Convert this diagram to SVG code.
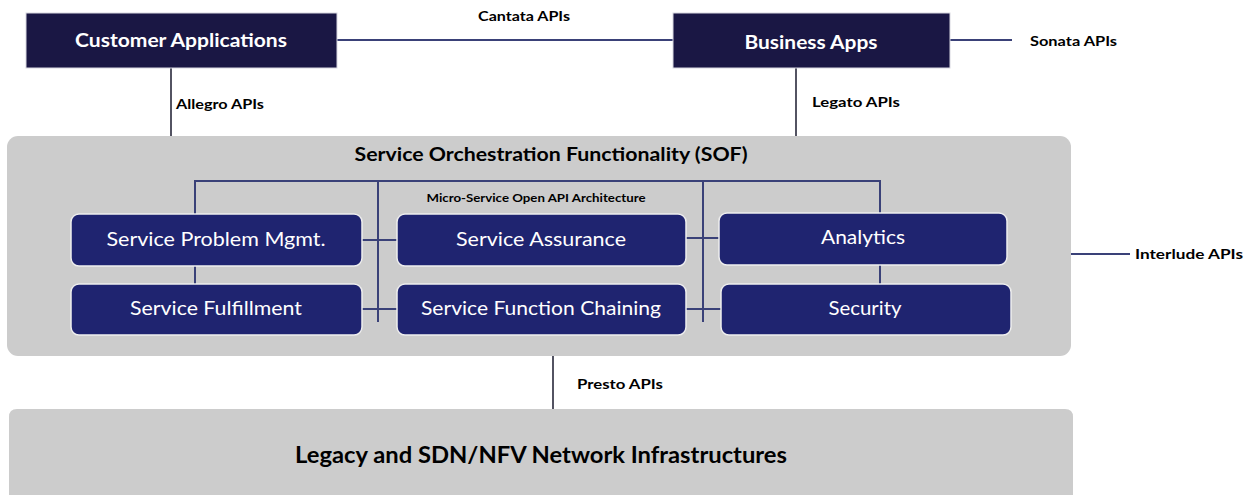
<svg xmlns="http://www.w3.org/2000/svg" width="1255" height="495" viewBox="0 0 1255 495">
<style>
.top{fill:#1a1744;stroke:#d8d8e0;stroke-width:1}
.panel{fill:#cccccc}
.svc{fill:#1f2470;stroke:#eeeeee;stroke-width:1.5}
.ln{stroke:#3a4178;stroke-width:2;fill:none}
.lnk{stroke:#1a1a2e;stroke-width:1.5;fill:none}
.tw{font-family:'Lato','Liberation Sans',sans-serif;fill:#ffffff;text-anchor:middle;dominant-baseline:central}
.tb{font-family:'Lato','Liberation Sans',sans-serif;font-weight:bold;fill:#000000}
</style>
<rect width="1255" height="495" fill="#ffffff"/>
<g id="sof">
<rect class="panel" x="7" y="136" width="1064" height="220" rx="11"/>
<text class="tb" x="551" y="161" font-size="18" text-anchor="middle" textLength="393" lengthAdjust="spacingAndGlyphs">Service Orchestration Functionality (SOF)</text>
<text class="tb" x="536" y="202" font-size="11" text-anchor="middle" textLength="219" lengthAdjust="spacingAndGlyphs">Micro-Service Open API Architecture</text>
</g>
<g id="legacy">
<path class="panel" d="M9,495 V417 Q9,409 17,409 H1065 Q1073,409 1073,417 V495 Z"/>
<text class="tb" x="541" y="463" font-size="22" text-anchor="middle" textLength="492" lengthAdjust="spacingAndGlyphs">Legacy and SDN/NFV Network Infrastructures</text>
</g>
<g id="connectors">
<line class="ln" x1="337" y1="40" x2="673" y2="40"/>
<line class="ln" x1="950" y1="40" x2="1012" y2="40"/>
<line class="lnk" x1="171" y1="68" x2="171" y2="136"/>
<line class="lnk" x1="796" y1="68" x2="796" y2="136"/>
<line class="ln" x1="1071" y1="254" x2="1130" y2="254"/>
<line class="lnk" x1="553" y1="356" x2="553" y2="409"/>
<polyline class="ln" points="195,284 195,181 880,181 880,213"/>
<line class="ln" x1="378" y1="181" x2="378" y2="322"/>
<line class="ln" x1="703" y1="181" x2="703" y2="322"/>
<line class="ln" x1="880" y1="265" x2="880" y2="284"/>
<line class="ln" x1="362" y1="240" x2="397" y2="240"/>
<line class="ln" x1="686" y1="238" x2="719" y2="238"/>
<line class="ln" x1="362" y1="309" x2="397" y2="309"/>
<line class="ln" x1="686" y1="309" x2="721" y2="309"/>
</g>
<g id="customer-applications">
<rect class="top" x="26" y="13" width="311" height="55"/>
<text class="tw" x="181" y="40" font-size="18" font-weight="bold" textLength="212" lengthAdjust="spacingAndGlyphs">Customer Applications</text>
</g>
<g id="business-apps">
<rect class="top" x="673" y="13" width="277" height="55"/>
<text class="tw" x="811" y="42" font-size="18" font-weight="bold" textLength="133" lengthAdjust="spacingAndGlyphs">Business Apps</text>
</g>
<g id="labels">
<text class="tb" x="478" y="21" font-size="13" textLength="92" lengthAdjust="spacingAndGlyphs">Cantata APIs</text>
<text class="tb" x="1030" y="46" font-size="13" textLength="87" lengthAdjust="spacingAndGlyphs">Sonata APIs</text>
<text class="tb" x="176" y="109" font-size="13" textLength="88" lengthAdjust="spacingAndGlyphs">Allegro APIs</text>
<text class="tb" x="812" y="107" font-size="13" textLength="88" lengthAdjust="spacingAndGlyphs">Legato APIs</text>
<text class="tb" x="1135" y="259" font-size="13" textLength="108" lengthAdjust="spacingAndGlyphs">Interlude APIs</text>
<text class="tb" x="577" y="389" font-size="13" textLength="86" lengthAdjust="spacingAndGlyphs">Presto APIs</text>
</g>
<g id="service-problem-mgmt">
<rect class="svc" x="71" y="214" width="291" height="52" rx="8"/>
<text class="tw" x="216" y="238.5" font-size="19" textLength="219" lengthAdjust="spacingAndGlyphs">Service Problem Mgmt.</text>
</g>
<g id="service-fulfillment">
<rect class="svc" x="71" y="284" width="291" height="51" rx="8"/>
<text class="tw" x="216" y="307.5" font-size="19" textLength="172" lengthAdjust="spacingAndGlyphs">Service Fulfillment</text>
</g>
<g id="service-assurance">
<rect class="svc" x="397" y="214" width="289" height="52" rx="8"/>
<text class="tw" x="541" y="238.5" font-size="19" textLength="170" lengthAdjust="spacingAndGlyphs">Service Assurance</text>
</g>
<g id="service-function-chaining">
<rect class="svc" x="397" y="284" width="289" height="51" rx="8"/>
<text class="tw" x="541" y="307.5" font-size="19" textLength="240" lengthAdjust="spacingAndGlyphs">Service Function Chaining</text>
</g>
<g id="analytics">
<rect class="svc" x="719" y="213" width="288" height="52" rx="8"/>
<text class="tw" x="863" y="236.5" font-size="19" textLength="84" lengthAdjust="spacingAndGlyphs">Analytics</text>
</g>
<g id="security">
<rect class="svc" x="721" y="284" width="290" height="51" rx="8"/>
<text class="tw" x="865" y="307.5" font-size="19" textLength="73" lengthAdjust="spacingAndGlyphs">Security</text>
</g>
</svg>
